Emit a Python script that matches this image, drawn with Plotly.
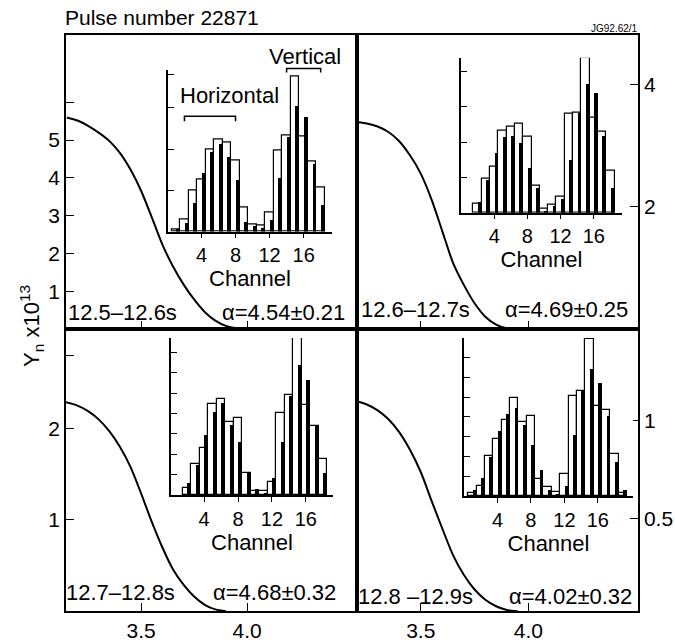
import plotly.graph_objects as go

W, H = 675, 642
FONT = "Liberation Sans, Arial, Helvetica, sans-serif"

# ---------------- data ----------------
# neutron-yield profile Y_n (x10^13) against the radial coordinate
x_tl = [3.15, 3.20, 3.25, 3.30, 3.35, 3.40, 3.45, 3.50, 3.55, 3.60, 3.65, 3.70, 3.75, 3.80, 3.85, 3.90, 3.95, 4.00]
y_tl = [5.60, 5.52, 5.38, 5.20, 4.98, 4.66, 4.22, 3.66, 2.96, 2.24, 1.66, 1.18, 0.78, 0.45, 0.22, 0.08, 0.02, 0.00]

x_tr = [3.21, 3.25, 3.30, 3.35, 3.40, 3.45, 3.50, 3.55, 3.60, 3.65, 3.70, 3.75, 3.80, 3.85, 3.90, 3.95]
y_tr = [3.38, 3.36, 3.31, 3.22, 3.07, 2.84, 2.54, 2.12, 1.60, 1.08, 0.72, 0.42, 0.20, 0.07, 0.01, 0.00]

x_bl = [3.14, 3.20, 3.25, 3.30, 3.35, 3.40, 3.45, 3.50, 3.55, 3.60, 3.65, 3.70, 3.75, 3.80, 3.85, 3.90]
y_bl = [2.29, 2.25, 2.19, 2.10, 1.97, 1.80, 1.58, 1.29, 0.98, 0.70, 0.46, 0.29, 0.16, 0.07, 0.02, 0.00]

x_br = [3.21, 3.25, 3.30, 3.35, 3.40, 3.45, 3.50, 3.55, 3.60, 3.65, 3.70, 3.75, 3.80, 3.85, 3.90, 3.95]
y_br = [1.094, 1.080, 1.050, 1.005, 0.940, 0.850, 0.737, 0.592, 0.450, 0.315, 0.215, 0.140, 0.088, 0.055, 0.036, 0.030]

time_labels = ["12.5\u201312.6s", "12.6\u201312.7s", "12.7\u201312.8s", "12.8 \u201312.9s"]
alpha_labels = ["\u03b1=4.54\u00b10.21", "\u03b1=4.69\u00b10.25", "\u03b1=4.68\u00b10.32", "\u03b1=4.02\u00b10.32"]

# camera channel counts: measured (open) and fitted (solid)
channels = list(range(1, 20))
meas_tl = [0.05, 0.30, 1.00, 1.25, 1.98, 2.24, 2.16, 1.73, 0.58, 0.18, 0.14, 0.45, 1.97, 2.34, 3.76, 2.30, 1.69, 1.06, None]
fit_tl = [0.08, 0.22, 0.70, 1.44, 1.94, 2.14, 1.82, 1.26, 0.25, 0.14, 0.10, 0.30, 1.30, 2.30, 3.05, 2.78, 1.65, 0.66, None]

meas_tr = [None, 0.27, 0.96, 1.30, 2.33, 2.44, 2.52, 2.15, 0.76, 0.11, 0.23, 0.45, 2.81, 2.84, 4.39, 2.70, 2.31, 1.18, None]
fit_tr = [None, 0.31, 0.94, 1.70, 2.15, 2.19, 2.00, 1.27, 0.71, 0.06, 0.20, 0.39, 1.50, 2.84, 3.65, 3.40, 2.19, 0.71, None]

meas_bl = [None, 0.36, 1.54, 2.30, 4.46, 4.70, 3.60, 3.80, 1.09, 0.20, 0.20, 0.65, 4.05, 4.91, 7.70, 4.42, 3.37, 1.79, None]
fit_bl = [None, 0.60, 1.50, 2.93, 4.10, 4.50, 3.45, 2.60, 1.14, 0.28, 0.10, 0.85, 2.63, 4.88, 6.37, 5.64, 3.37, 1.09, None]

meas_br = [0.15, 0.50, 2.03, 2.90, 3.87, 4.95, 3.75, 4.03, 0.87, 0.45, 0.20, 1.12, 5.07, 5.32, 7.95, 4.58, 4.33, 2.12, 0.15]
fit_br = [0.32, 0.90, 2.00, 3.28, 4.15, 4.45, 3.60, 2.57, 1.32, 0.28, 0.10, 0.50, 3.08, 5.37, 6.45, 5.70, 4.03, 1.70, 0.32]

horizontal_group = (2, 8)
vertical_group = (14, 18)

x_ticks = [3.5, 4.0]
x_ticktext = ["3.5", "4.0"]
channel_ticks = [4, 8, 12, 16]


# ---------------- helpers ----------------
def dom_x(left, right):
    return [left / W, right / W]


def dom_y(top, bottom):
    return [1 - bottom / H, 1 - top / H]


def px(x):
    return x / W


def py(y):
    return 1 - y / H


fig = go.Figure()

curves = [(x_tl, y_tl, "x", "y"), (x_tr, y_tr, "x2", "y2"),
          (x_bl, y_bl, "x3", "y3"), (x_br, y_br, "x4", "y4")]
for xs, ys, xa, ya in curves:
    fig.add_trace(go.Scatter(x=xs, y=ys, mode="lines", xaxis=xa, yaxis=ya,
                             line=dict(color="black", width=2, shape="spline", smoothing=0.8),
                             showlegend=False, hoverinfo="skip"))

hists = [(meas_tl, fit_tl, "x5", "y5"), (meas_tr, fit_tr, "x6", "y6"),
         (meas_bl, fit_bl, "x7", "y7"), (meas_br, fit_br, "x8", "y8")]
for meas, fit, xa, ya in hists:
    fig.add_trace(go.Bar(x=channels, y=meas, width=1.0, xaxis=xa, yaxis=ya,
                         marker=dict(color="white", line=dict(color="black", width=1.2)),
                         showlegend=False, hoverinfo="skip"))
    fig.add_trace(go.Bar(x=[c + 0.27 for c in channels], y=fit, width=0.46, xaxis=xa, yaxis=ya,
                         marker=dict(color="black", line=dict(width=0)),
                         showlegend=False, hoverinfo="skip"))

# ---------------- axes ----------------
tickfont = dict(family=FONT, size=21, color="black")
main = dict(showline=True, linecolor="black", linewidth=1.5, mirror=True,
            ticks="inside", ticklen=8, tickwidth=1.2, tickcolor="black",
            showgrid=False, zeroline=False, tickfont=tickfont, fixedrange=True)


def unlabeled(vals):
    # extra tick marks drawn without a label
    return dict(tickvals=vals, ticks="inside", ticklen=8, tickwidth=1.2,
                tickcolor="black", showgrid=False)


left_x = [3.146, 4.518]
right_x = [3.204, 4.509]

fig.update_layout(
    xaxis=dict(main, domain=dom_x(66, 357), range=left_x, anchor="y",
               tickvals=x_ticks, showticklabels=False),
    yaxis=dict(main, domain=dom_y(35, 331), range=[0, 7.79], anchor="x",
               tickvals=[1, 2, 3, 4, 5], minor=unlabeled([6])),
    xaxis2=dict(main, domain=dom_x(357, 638), range=right_x, anchor="y2",
                tickvals=x_ticks, showticklabels=False),
    yaxis2=dict(main, domain=dom_y(35, 331), range=[0, 4.81], anchor="x2", side="right",
                tickvals=[2, 4], ticktext=["2", "4"]),
    xaxis3=dict(main, domain=dom_x(66, 357), range=left_x, anchor="y3",
                tickvals=x_ticks, ticktext=x_ticktext),
    yaxis3=dict(main, domain=dom_y(331, 615), range=[0, 3.09], anchor="x3",
                tickvals=[1, 2], minor=unlabeled([2.8])),
    xaxis4=dict(main, domain=dom_x(357, 638), range=right_x, anchor="y4",
                tickvals=x_ticks, ticktext=x_ticktext),
    yaxis4=dict(main, domain=dom_y(331, 615), range=[0.03, 1.464], anchor="x4", side="right",
                tickvals=[0.5, 1], ticktext=["0.5", "1"]),
)

inset_x = dict(showline=True, linecolor="black", linewidth=1.5, mirror=False,
               ticks="outside", ticklen=5, tickwidth=1.2, tickcolor="black",
               showgrid=False, zeroline=False, tickfont=dict(family=FONT, size=20, color="black"),
               tickvals=channel_ticks, fixedrange=True,
               title=dict(text="Channel", font=dict(family=FONT, size=22, color="black"), standoff=0))
inset_y = dict(showline=True, linecolor="black", linewidth=1.5, mirror=False,
               ticks="inside", ticklen=6, tickwidth=1.2, tickcolor="black",
               showgrid=False, zeroline=False, showticklabels=False, fixedrange=True)

insets = [
    ("xaxis5", "yaxis5", "x5", "y5", (168, 332), (70, 233), [0.07, 19.33], [0, 3.93], [1, 2, 3, 3.8]),
    ("xaxis6", "yaxis6", "x6", "y6", (461, 622), (58, 214), [0.0, 19.4], [0, 4.40], [1, 2, 3, 4]),
    ("xaxis7", "yaxis7", "x7", "y7", (171, 333), (340, 498), [0.1, 19.2], [0, 7.72], [1, 2, 3, 4, 5, 6, 7]),
    ("xaxis8", "yaxis8", "x8", "y8", (464, 633), (340, 499), [0.0, 20.2], [0, 8.0], [1, 2, 3, 4, 5, 6, 7, 8]),
]
for xk, yk, xid, yid, xd, yd, xr, yr, yt in insets:
    fig.update_layout({
        xk: dict(inset_x, domain=dom_x(*xd), range=xr, anchor=yid),
        yk: dict(inset_y, domain=dom_y(*yd), range=yr, anchor=xid, tickvals=yt),
    })


# ---------------- text ----------------
def note(text, x, y, xanchor="center", size=22, **kw):
    return dict(text=text, x=px(x), y=py(y), xref="paper", yref="paper",
                xanchor=xanchor, yanchor="middle", showarrow=False,
                font=dict(family=FONT, size=size, color="black"), **kw)


annotations = [
    note("Pulse number 22871", 63, 18, xanchor="left", size=21),
    note("JG92.62/1", 640, 29, xanchor="right", size=10),
    note("Y<sub>n</sub> x10<sup>13</sup>", 32, 328, size=22, textangle=-90),
    note("Horizontal", 229, 96),
    note("Vertical", 305, 57),
]
label_pos = [(66, 347, 314), (359, 630, 311), (64, 338, 596), (356, 634, 600)]
for (lx, rx, yy), tl, al in zip(label_pos, time_labels, alpha_labels):
    annotations.append(note(tl, lx, yy, xanchor="left"))
    annotations.append(note(al, rx, yy, xanchor="right"))


# group brackets above the horizontal and vertical camera channels
def bracket(group, y_line, drop):
    a, b = group
    return dict(type="path", xref="x5", yref="paper",
                path=f"M {a},{py(y_line + drop)} L {a},{py(y_line)} L {b},{py(y_line)} L {b},{py(y_line + drop)}",
                line=dict(color="black", width=1.5))


shapes = [bracket(horizontal_group, 117, 5), bracket(vertical_group, 69, 4)]

fig.update_layout(
    width=W, height=H, margin=dict(l=0, r=0, t=0, b=0),
    paper_bgcolor="white", plot_bgcolor="white",
    barmode="overlay", bargap=0,
    font=dict(family=FONT, color="black"),
    annotations=annotations, shapes=shapes, showlegend=False,
)

fig.write_html("out.html")
